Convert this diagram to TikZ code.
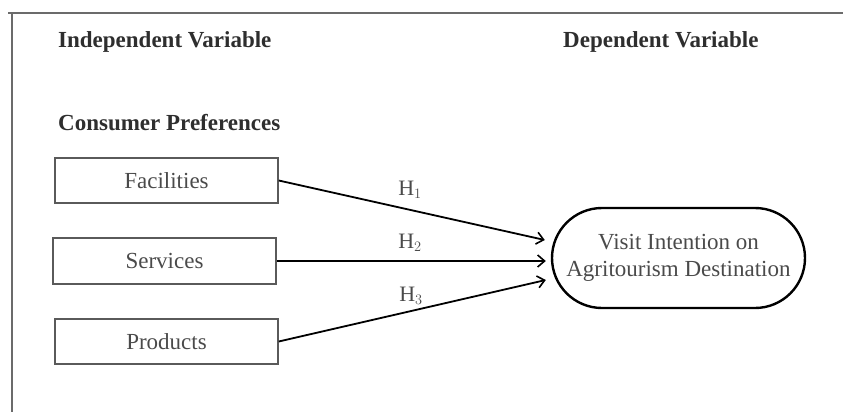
\documentclass[tikz,border=0pt]{standalone}
\usepackage{fontspec}
\setmainfont{Liberation Serif}
\usetikzlibrary{shapes.misc,arrows.meta}
\definecolor{txtgray}{HTML}{4A4A4A}
\definecolor{headgray}{HTML}{2E2E2E}
\definecolor{boxgray}{HTML}{5A5A5A}
\tikzset{
  varbox/.style={draw=boxgray, line width=1.5pt, minimum width=223pt, minimum height=45pt, inner sep=0pt, text=txtgray, font=\fontsize{23}{27}\selectfont},
  heading/.style={anchor=west, inner sep=0pt, text=headgray, font=\bfseries\fontsize{23}{27}\selectfont},
  hyp/.style={text=txtgray, inner sep=0pt, font=\fontsize{22}{26}\selectfont},
  arr/.style={line width=1.8pt, -{Straight Barb[length=7pt,width=12pt,line width=1.6pt]}},
}
\begin{document}
\begin{tikzpicture}[x=1pt,y=-1pt]
\useasboundingbox (0,0) rectangle (843,412);
\draw[boxgray!90, line width=1.6pt] (8,13) -- (843,13);
\draw[boxgray!90, line width=1.6pt] (12,13) -- (12,412);
\node[heading] (iv) at (58,42) {Independent Variable};
\node[heading] (dv) at (563,42) {Dependent Variable};
\node[heading] (cp) at (58,123) {Consumer Preferences};
\node[varbox] (fac) at (166.5,180.5) {Facilities};
\node[varbox, minimum height=46pt] (ser) at (164.5,261) {Services};
\node[varbox] (pro) at (166.5,341.5) {Products};
\node[rounded rectangle, draw=black, line width=2.4pt, minimum width=253pt, minimum height=100pt, inner sep=0pt, align=center, text=txtgray, font=\fontsize{23}{27}\selectfont] (vi) at (678.5,258) {Visit Intention on\\Agritourism Destination};
\draw[arr] (fac.east) -- ([xshift=-6pt,yshift=18pt]vi.west);
\draw[arr] (ser.east) -- ([xshift=-5pt,yshift=-3pt]vi.west);
\draw[arr] (pro.east) -- ([xshift=-5pt,yshift=-22pt]vi.west);
\node[hyp] (h1) at (410,190) {H$_1$};
\node[hyp] (h2) at (410,243) {H$_2$};
\node[hyp] (h3) at (411,296) {H$_3$};
\end{tikzpicture}
\end{document}
